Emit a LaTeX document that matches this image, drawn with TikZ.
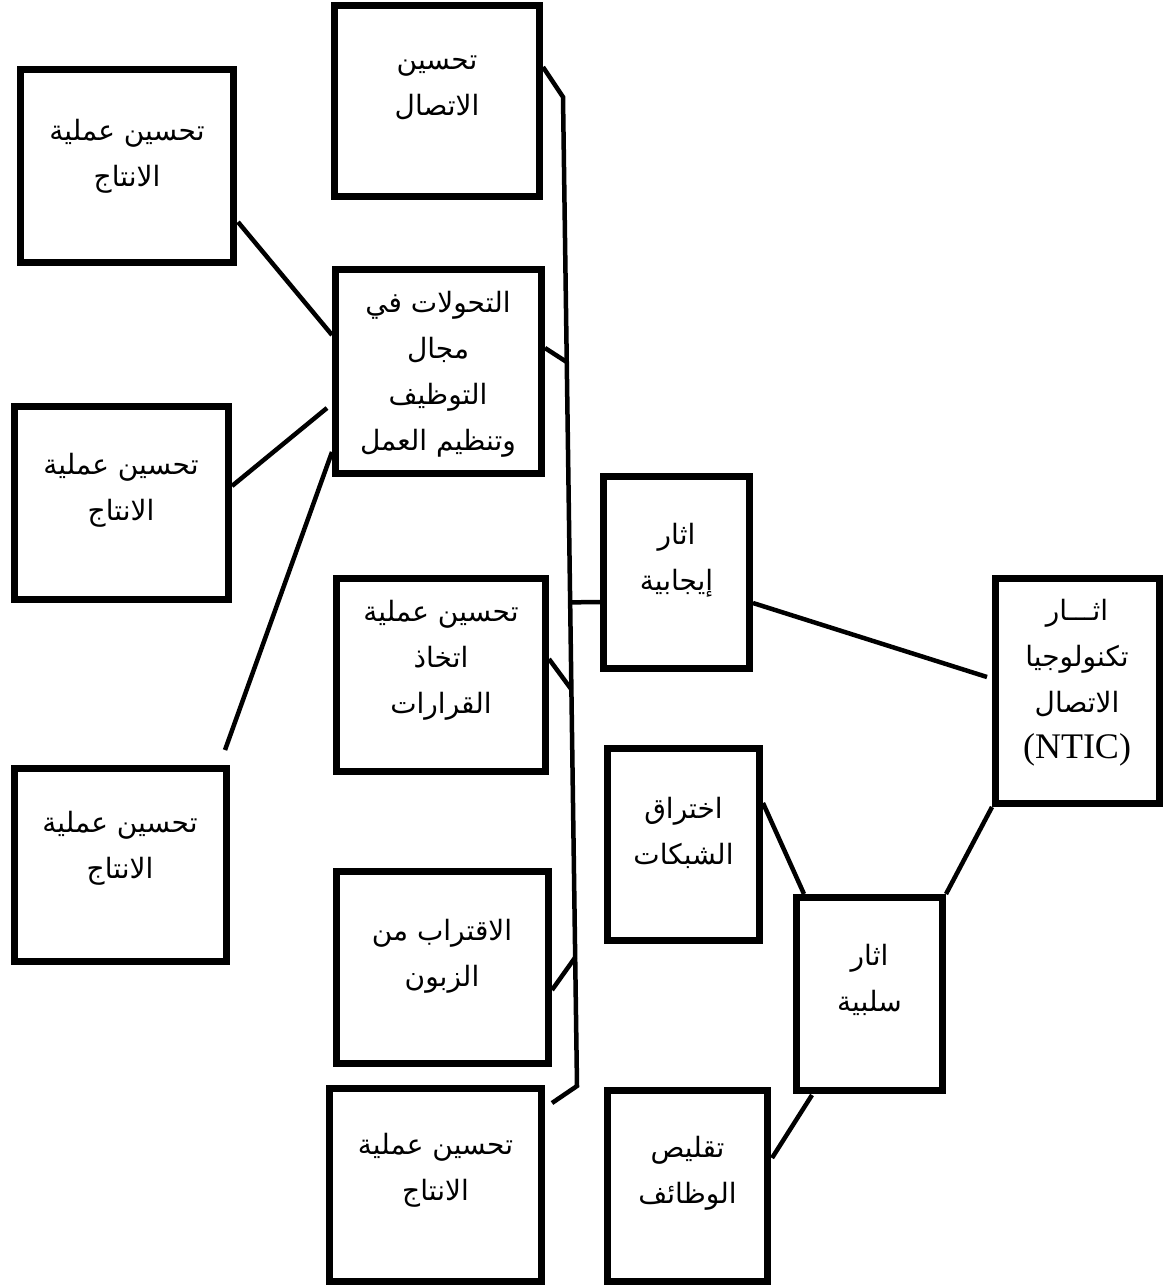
\documentclass[tikz,border=0pt]{standalone}
\usepackage{fontspec}
\usetikzlibrary{calc}
\TeXXeTstate=1
\newfontfamily\arabicfont[Script=Arabic]{DejaVu Sans}
\newfontfamily\latinserif{Liberation Serif}
\newcommand\ar[1]{\beginR #1\endR}
\newcommand\bx[5]{\node[boxst, minimum width={#4-#2-7}, minimum height={#5-#3-7}] (#1) at ({(#2+#4)/2},{(#3+#5)/2}) {};}
\begin{document}
\begin{tikzpicture}[x=1pt,y=-1pt,
  boxst/.style={draw=black, line width=7pt, inner sep=0pt, fill=white},
  conn/.style={draw=black, line width=4.5pt},
  lbl/.style={align=center, inner sep=0pt, font=\arabicfont\fontsize{28}{46}\selectfont}]
\useasboundingbox[fill=white] (0,0) rectangle (1163,1285);
% boxes (outer bounds)
\bx{A}{331}{2}{543}{200}
\bx{B}{17}{66}{237}{266}
\bx{C}{332}{266}{545}{477}
\bx{D}{11}{403}{232}{603}
\bx{E}{333}{575}{549}{775}
\bx{F}{11}{765}{230}{965}
\bx{G}{333}{868}{552}{1067}
\bx{H}{326}{1085}{545}{1285}
\bx{I}{600}{473}{753}{672}
\bx{J}{992}{575}{1163}{807}
\bx{K}{604}{745}{763}{944}
\bx{L}{793}{894}{946}{1094}
\bx{M}{604}{1087}{771}{1285}
% labels
\node[lbl] (tA) at (437,87.5) {\ar{تحسين}\\\ar{الاتصال}};
\node[lbl] (tB) at (127,156.5) {\ar{تحسين عملية}\\\ar{الانتاج}};
\node[lbl] (tC) at (438,374) {\ar{التحولات في}\\\ar{مجال}\\\ar{التوظيف}\\\ar{وتنظيم العمل}};
\node[lbl] (tD) at (121,490) {\ar{تحسين عملية}\\\ar{الانتاج}};
\node[lbl] (tE) at (441,660.5) {\ar{تحسين عملية}\\\ar{اتخاذ}\\\ar{القرارات}};
\node[lbl] (tF) at (120,848.5) {\ar{تحسين عملية}\\\ar{الانتاج}};
\node[lbl] (tG) at (442,956.5) {\ar{الاقتراب من}\\\ar{الزبون}};
\node[lbl] (tH) at (435.5,1170.5) {\ar{تحسين عملية}\\\ar{الانتاج}};
\node[lbl] (tI) at (676.5,560) {\ar{اثار}\\\ar{إيجابية}};
\node[lbl] (tJ) at (1077,683) {\ar{اثـــار}\\\ar{تكنولوجيا}\\\ar{الاتصال}\\{\latinserif\fontsize{36}{46}\selectfont (NTIC)}};
\node[lbl] (tK) at (683.5,832.5) {\ar{اختراق}\\\ar{الشبكات}};
\node[lbl] (tL) at (869.5,980) {\ar{اثار}\\\ar{سلبية}};
\node[lbl] (tM) at (687.5,1173.5) {\ar{تقليص}\\\ar{الوظائف}};
% bus
\coordinate (b1) at (563,97);
\coordinate (b2) at (577,1086);
\coordinate (hend) at (552,1103);
\draw[conn, line join=miter] ($(A.north east)+(0,65)$) -- (b1) -- (b2) -- (hend);
\draw[conn] ($(C.north east)+(0,82)$) -- ($(b1)!0.268!(b2)$);
\draw[conn] ($(E.north east)+(0,84)$) -- ($(b1)!0.599!(b2)$);
\draw[conn] ($(b1)!0.511!(b2)$) -- ($(I.north west)+(0,129)$);
\draw[conn] ($(G.north east)+(0,122)$) -- ($(b1)!0.870!(b2)$);
% left side
\draw[conn] ($(B.north east)+(1,156)$) -- ($(C.north west)+(0,69)$);
\draw[conn] ($(D.north east)+(0,83)$) -- ($(C.north west)+(-5,142)$);
\draw[conn] ($(F.north east)+(-5,-15)$) -- ($(C.north west)+(0,186)$);
% right side
\draw[conn] ($(I.north east)+(0,130)$) -- ($(J.north west)+(-5,102)$);
\draw[conn] (J.south west) -- (L.north east);
\draw[conn] ($(K.north east)+(0,58)$) -- ($(L.north west)+(11,0)$);
\draw[conn] ($(L.south west)+(19,1)$) -- ($(M.north east)+(1,71)$);
\end{tikzpicture}
\end{document}
